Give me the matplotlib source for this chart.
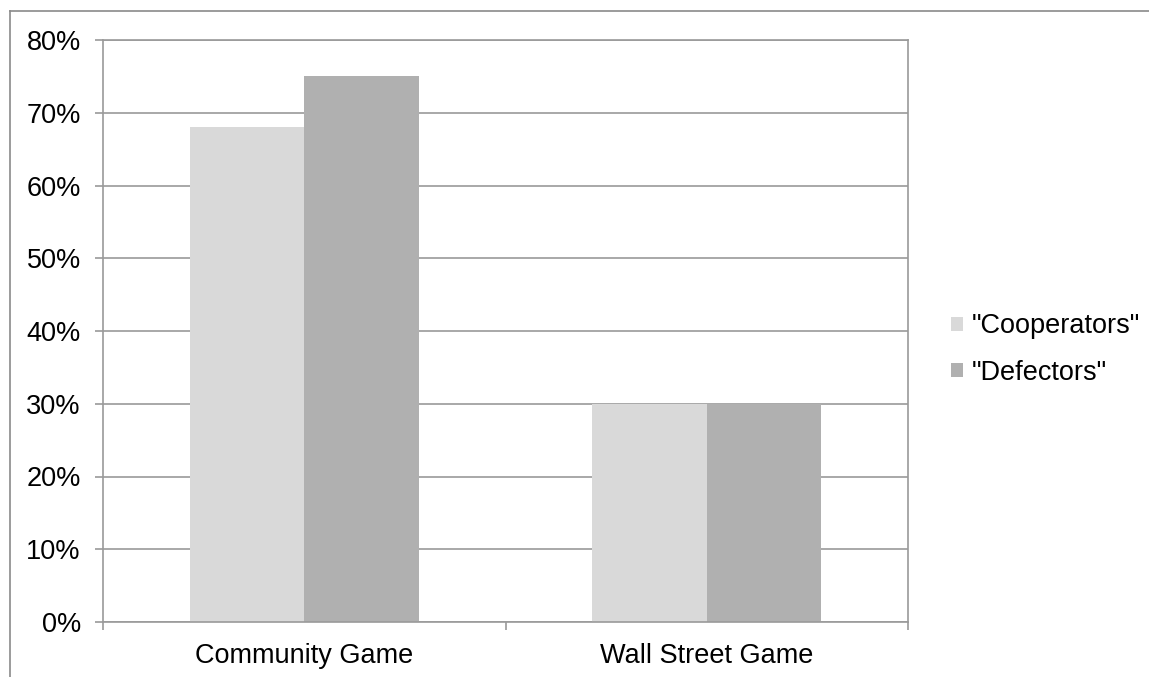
import matplotlib
matplotlib.use("Agg")
import matplotlib.pyplot as plt
import numpy as np
from matplotlib.ticker import FuncFormatter, MultipleLocator
from matplotlib.lines import Line2D

categories = ["Community Game", "Wall Street Game"]
series_names = ['"Cooperators"', '"Defectors"']
cooperators = [68, 30]
defectors = [75, 30]
colors = ["#d9d9d9", "#b0b0b0"]

plt.rcParams['font.family'] = ['Liberation Sans', 'DejaVu Sans']

fig = plt.figure(figsize=(11.49, 6.77), dpi=100)
ax = fig.add_axes([103/1149, 1-622/677, (908-103)/1149, (622-40)/677])

x = np.arange(len(categories))
w = 0.285
ax.bar(x - w/2, cooperators, w, color=colors[0], label=series_names[0], zorder=2)
ax.bar(x + w/2, defectors, w, color=colors[1], label=series_names[1], zorder=2)

ax.set_xlim(-0.5, 1.5)
ax.set_ylim(0, 80)
ax.yaxis.set_major_locator(MultipleLocator(10))
ax.yaxis.set_major_formatter(FuncFormatter(lambda v, p: f"{v:.0f}%"))
ax.grid(axis='y', color='#9a9a9a', linewidth=1.2, zorder=0)
ax.set_axisbelow(True)

fs = 19.5
ax.set_xticks([-0.5, 0.5, 1.5])
ax.set_xticklabels([])
ax.set_xticks(x, minor=True)
ax.set_xticklabels(categories, minor=True)
ax.tick_params(axis='x', which='minor', length=0, labelsize=fs, pad=15)
ax.tick_params(axis='x', which='major', length=6, color='#9a9a9a', width=1.2)
ax.tick_params(axis='y', length=6, color='#9a9a9a', width=1.2, labelsize=fs, pad=10)

for s in ax.spines.values():
    s.set_color('#9a9a9a')
    s.set_linewidth(1.2)

leg = ax.legend(loc='center left', bbox_to_anchor=(1.053, 0.468), frameon=False,
                fontsize=fs, handlelength=0.44, handleheight=0.44,
                handletextpad=0.33, labelspacing=0.75, borderpad=0, borderaxespad=0)

# figure border (left and top)
fig.add_artist(Line2D([10/1149, 10/1149], [0, 1-11/677], color='#8a8a8a', lw=1.2))
fig.add_artist(Line2D([10/1149, 1], [1-11/677, 1-11/677], color='#8a8a8a', lw=1.2))

fig.savefig("out.png", dpi=100)
